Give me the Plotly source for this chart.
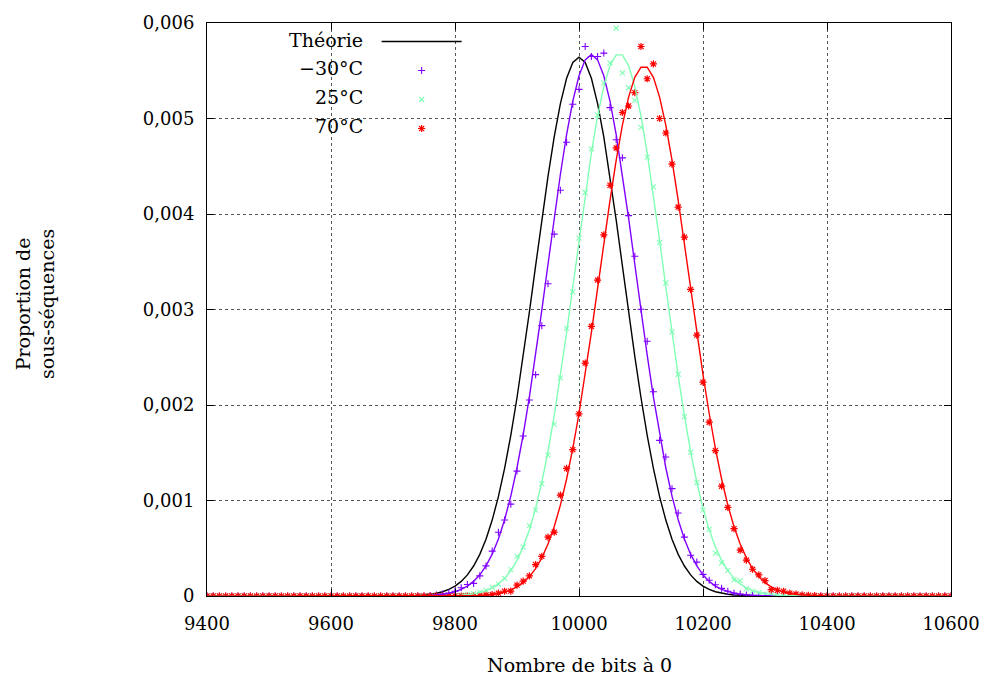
import plotly.graph_objects as go

# ---------------- data ----------------
x_bits = [
    9400, 9410, 9420, 9430, 9440, 9450, 9460, 9470, 9480, 9490,
    9500, 9510, 9520, 9530, 9540, 9550, 9560, 9570, 9580, 9590,
    9600, 9610, 9620, 9630, 9640, 9650, 9660, 9670, 9680, 9690,
    9700, 9710, 9720, 9730, 9740, 9750, 9760, 9770, 9780, 9790,
    9800, 9810, 9820, 9830, 9840, 9850, 9860, 9870, 9880, 9890,
    9900, 9910, 9920, 9930, 9940, 9950, 9960, 9970, 9980, 9990,
    10000, 10010, 10020, 10030, 10040, 10050, 10060, 10070, 10080, 10090,
    10100, 10110, 10120, 10130, 10140, 10150, 10160, 10170, 10180, 10190,
    10200, 10210, 10220, 10230, 10240, 10250, 10260, 10270, 10280, 10290,
    10300, 10310, 10320, 10330, 10340, 10350, 10360, 10370, 10380, 10390,
    10400, 10410, 10420, 10430, 10440, 10450, 10460, 10470, 10480, 10490,
    10500, 10510, 10520, 10530, 10540, 10550, 10560, 10570, 10580, 10590,
    10600,
]

theorie = [
    0, 0, 0, 0, 0, 0, 0, 0, 0, 0,
    0, 0, 0, 0, 0, 0, 0, 0, 0, 0,
    0, 0, 0, 0, 0, 0, 0, 0, 0, 0,
    0, 0, 0.0000022, 0.0000038, 0.0000065, 0.0000109, 0.0000178, 0.0000284, 0.0000446, 0.0000686,
    0.000103, 0.000153, 0.000221, 0.000314, 0.000436, 0.000595, 0.000795, 0.001041, 0.001337, 0.001682,
    0.002076, 0.002510, 0.002975, 0.003456, 0.003936, 0.004394, 0.004808, 0.005156, 0.005421, 0.005586,
    0.005642, 0.005586, 0.005421, 0.005156, 0.004808, 0.004394, 0.003936, 0.003456, 0.002975, 0.002510,
    0.002076, 0.001682, 0.001337, 0.001041, 0.000795, 0.000595, 0.000436, 0.000314, 0.000221, 0.000153,
    0.000103, 0.0000686, 0.0000446, 0.0000284, 0.0000178, 0.0000109, 0.0000065, 0.0000038, 0.0000022, 0,
    0, 0, 0, 0, 0, 0, 0, 0, 0, 0,
    0, 0, 0, 0, 0, 0, 0, 0, 0, 0,
    0, 0, 0, 0, 0, 0, 0, 0, 0, 0,
    0,
]

fit_m30 = [
    0, 0, 0, 0, 0, 0, 0, 0, 0, 0,
    0, 0, 0, 0, 0, 0, 0, 0, 0, 0,
    0, 0, 0, 0, 0, 0, 0, 0, 0, 0,
    0, 0, 0, 0, 0.0000022, 0.0000039, 0.0000066, 0.0000109, 0.0000179, 0.0000286,
    0.0000448, 0.0000689, 0.000104, 0.000153, 0.000222, 0.000315, 0.000438, 0.000598, 0.000799, 0.001046,
    0.001343, 0.001691, 0.002086, 0.002522, 0.002990, 0.003474, 0.003956, 0.004416, 0.004832, 0.005182,
    0.005448, 0.005614, 0.005670, 0.005614, 0.005448, 0.005182, 0.004832, 0.004416, 0.003956, 0.003474,
    0.002990, 0.002522, 0.002086, 0.001691, 0.001343, 0.001046, 0.000799, 0.000598, 0.000438, 0.000315,
    0.000222, 0.000153, 0.000104, 0.0000689, 0.0000448, 0.0000286, 0.0000179, 0.0000109, 0.0000066, 0.0000039,
    0.0000022, 0, 0, 0, 0, 0, 0, 0, 0, 0,
    0, 0, 0, 0, 0, 0, 0, 0, 0, 0,
    0, 0, 0, 0, 0, 0, 0, 0, 0, 0,
    0,
]

fit_25 = [
    0, 0, 0, 0, 0, 0, 0, 0, 0, 0,
    0, 0, 0, 0, 0, 0, 0, 0, 0, 0,
    0, 0, 0, 0, 0, 0, 0, 0, 0, 0,
    0, 0, 0, 0, 0, 0, 0, 0, 0.0000017, 0.0000030,
    0.0000051, 0.0000085, 0.0000140, 0.0000227, 0.0000360, 0.0000558, 0.0000850, 0.000127, 0.000185, 0.000266,
    0.000373, 0.000514, 0.000694, 0.000918, 0.001191, 0.001514, 0.001886, 0.002304, 0.002758, 0.003236,
    0.003723, 0.004197, 0.004639, 0.005025, 0.005336, 0.005554, 0.005666, 0.005666, 0.005554, 0.005336,
    0.005025, 0.004639, 0.004197, 0.003723, 0.003236, 0.002758, 0.002304, 0.001886, 0.001514, 0.001191,
    0.000918, 0.000694, 0.000514, 0.000373, 0.000266, 0.000185, 0.000127, 0.0000850, 0.0000558, 0.0000360,
    0.0000227, 0.0000140, 0.0000085, 0.0000051, 0.0000030, 0.0000017, 0, 0, 0, 0,
    0, 0, 0, 0, 0, 0, 0, 0, 0, 0,
    0, 0, 0, 0, 0, 0, 0, 0, 0, 0,
    0,
]

fit_70 = [
    0, 0, 0, 0, 0, 0, 0, 0, 0, 0,
    0, 0, 0, 0, 0, 0, 0, 0, 0, 0,
    0, 0, 0, 0, 0, 0, 0, 0, 0, 0,
    0, 0, 0, 0, 0, 0, 0, 0, 0, 0,
    0, 0, 0.0000022, 0.0000037, 0.0000062, 0.0000103, 0.0000167, 0.0000266, 0.0000415, 0.0000635,
    0.0000953, 0.000140, 0.000203, 0.000287, 0.000399, 0.000544, 0.000726, 0.000952, 0.001225, 0.001545,
    0.001911, 0.002319, 0.002760, 0.003221, 0.003688, 0.004142, 0.004563, 0.004930, 0.005224, 0.005431,
    0.005537, 0.005537, 0.005431, 0.005224, 0.004930, 0.004563, 0.004142, 0.003688, 0.003221, 0.002760,
    0.002319, 0.001911, 0.001545, 0.001225, 0.000952, 0.000726, 0.000544, 0.000399, 0.000287, 0.000203,
    0.000140, 0.0000953, 0.0000635, 0.0000415, 0.0000266, 0.0000167, 0.0000103, 0.0000062, 0.0000037, 0.0000022,
    0, 0, 0, 0, 0, 0, 0, 0, 0, 0,
    0, 0, 0, 0, 0, 0, 0, 0, 0, 0,
    0,
]

mes_m30 = [
    0, 0, 0, 0, 0, 0, 0, 0, 0, 0,
    0, 0, 0, 0, 0, 0, 0, 0, 0, 0,
    0, 0, 0, 0, 0, 0, 0, 0, 0, 0,
    0, 0, 0, 0, 0, 0, 0.000005, 0.00001, 0.00002, 0.00003,
    0.00005, 0.000086, 0.000121, 0.000132, 0.000211, 0.000315, 0.00047, 0.000668, 0.000796, 0.000962,
    0.001308, 0.001675, 0.002052, 0.002318, 0.002831, 0.00327, 0.003789, 0.004249, 0.004751, 0.005149,
    0.005305, 0.005754, 0.00565, 0.00565, 0.005685, 0.005114, 0.004778, 0.004588, 0.003983, 0.003557,
    0.003003, 0.002668, 0.002138, 0.00163, 0.001456, 0.001124, 0.000869, 0.000616, 0.000426, 0.000355,
    0.000226, 0.000165, 0.000118, 0.00008, 0.00005, 0.00003, 0.00002, 0.00001, 0.000005, 0,
    0, 0, 0, 0, 0, 0, 0, 0, 0, 0,
    0, 0, 0, 0, 0, 0, 0, 0, 0, 0,
    0, 0, 0, 0, 0, 0, 0, 0, 0, 0,
    0,
]

mes_25 = [
    0, 0, 0, 0, 0, 0, 0, 0, 0, 0,
    0, 0, 0, 0, 0, 0, 0, 0, 0, 0,
    0, 0, 0, 0, 0, 0, 0, 0, 0, 0,
    0, 0, 0, 0, 0, 0, 0, 0, 0, 0,
    0.000005, 0.00001, 0.000015, 0.000025, 0.00004, 0.00006, 0.00009, 0.000125, 0.000184, 0.000277,
    0.000415, 0.000512, 0.000737, 0.0009, 0.001176, 0.001474, 0.001799, 0.002284, 0.002803, 0.003184,
    0.003747, 0.004225, 0.004682, 0.005035, 0.005374, 0.005582, 0.005945, 0.005478, 0.005322, 0.00519,
    0.004907, 0.004595, 0.004284, 0.0037, 0.003279, 0.002765, 0.002322, 0.001879, 0.001505, 0.001187,
    0.0009, 0.000698, 0.00045, 0.000346, 0.000268, 0.000168, 0.00016, 0.000074, 0.00005, 0.000035,
    0.00002, 0.000012, 0.000008, 0.000005, 0, 0, 0, 0, 0, 0,
    0, 0, 0, 0, 0, 0, 0, 0, 0, 0,
    0, 0, 0, 0, 0, 0, 0, 0, 0, 0,
    0,
]

mes_70 = [
    0, 0, 0, 0, 0, 0, 0, 0, 0, 0,
    0, 0, 0, 0, 0, 0, 0, 0, 0, 0,
    0, 0, 0, 0, 0, 0, 0, 0, 0, 0,
    0, 0, 0, 0, 0, 0, 0, 0, 0, 0,
    0, 0, 0, 0, 0.000005, 0.00001, 0.000015, 0.00003, 0.00005, 0.000052,
    0.000114, 0.000156, 0.000211, 0.000329, 0.000415, 0.000616, 0.000668, 0.001056, 0.001336, 0.001533,
    0.001907, 0.002439, 0.002824, 0.003308, 0.003782, 0.004301, 0.004692, 0.005063, 0.005131, 0.00527,
    0.005754, 0.005416, 0.005571, 0.0050, 0.004848, 0.004523, 0.004073, 0.003757, 0.003211, 0.002732,
    0.002239, 0.00182, 0.001523, 0.00115, 0.000927, 0.000705, 0.00048, 0.000376, 0.00028, 0.000221,
    0.000162, 0.000066, 0.00006, 0.00005, 0.00003, 0.00002, 0.000012, 0.000008, 0.000005, 0,
    0, 0, 0, 0, 0, 0, 0, 0, 0, 0,
    0, 0, 0, 0, 0, 0, 0, 0, 0, 0,
    0,
]

series_labels = ["Théorie", "\u221230\u00b0C", "25\u00b0C", "70\u00b0C"]
x_ticks = [9400, 9600, 9800, 10000, 10200, 10400, 10600]
y_ticks = [0, 0.001, 0.002, 0.003, 0.004, 0.005, 0.006]
y_ticktext = ["0", "0,001", "0,002", "0,003", "0,004", "0,005", "0,006"]

# ---------------- style ----------------
FONT = "DejaVu Serif"
C_BLACK = "#000000"
C_PURPLE = "#8000ff"
C_GREEN = "#80ffb4"
C_RED = "#ff0000"

W, H = 992, 684
ML, MR, MT, MB = 207, 35, 16, 88
PW, PH = W - ML - MR, H - MT - MB


def px_x(px):
    return (px - ML) / PW


def px_y(py):
    return 1 - (py - MT) / PH


fig = go.Figure()

fig.add_trace(go.Scatter(x=x_bits, y=theorie, mode="lines", name="",
                         line=dict(color=C_BLACK, width=1.4), showlegend=True,
                         legendrank=1))
fig.add_trace(go.Scatter(x=x_bits, y=mes_m30, mode="markers", name="",
                         marker=dict(symbol="cross-thin", size=5, color=C_PURPLE,
                                     line=dict(color=C_PURPLE, width=1.1)),
                         showlegend=True, legendrank=2))
fig.add_trace(go.Scatter(x=x_bits, y=mes_25, mode="markers", name="",
                         marker=dict(symbol="x-thin", size=5, color=C_GREEN,
                                     line=dict(color=C_GREEN, width=1.1)),
                         showlegend=True, legendrank=3))
fig.add_trace(go.Scatter(x=x_bits, y=mes_70, mode="markers", name="",
                         marker=dict(symbol="asterisk-open", size=6, color=C_RED,
                                     line=dict(color=C_RED, width=1.2)),
                         showlegend=True, legendrank=4))
fig.add_trace(go.Scatter(x=x_bits, y=fit_m30, mode="lines", showlegend=False,
                         line=dict(color=C_PURPLE, width=1.4)))
fig.add_trace(go.Scatter(x=x_bits, y=fit_25, mode="lines", showlegend=False,
                         line=dict(color=C_GREEN, width=1.4)))
fig.add_trace(go.Scatter(x=x_bits, y=fit_70, mode="lines", showlegend=False,
                         line=dict(color=C_RED, width=1.4)))

axis_common = dict(
    showline=True, linecolor="black", linewidth=1, mirror="ticks",
    ticks="inside", ticklen=7, tickcolor="black", tickwidth=1,
    showgrid=True, gridcolor="#555555", griddash="dot", gridwidth=1,
    zeroline=False,
    tickfont=dict(family=FONT, size=18, color="black"),
)

fig.update_xaxes(range=[9400, 10600], tickvals=x_ticks,
                 ticktext=[str(v) for v in x_ticks], ticklabelstandoff=11,
                 **axis_common)
fig.update_yaxes(range=[0, 0.006], tickvals=y_ticks, ticktext=y_ticktext,
                 ticklabelstandoff=8, **axis_common)

# white background behind the key (above grid, below data)
fig.add_shape(type="rect", xref="paper", yref="paper",
              x0=px_x(222), x1=px_x(478), y0=px_y(141), y1=px_y(17),
              fillcolor="white", line=dict(width=0), layer="between")

annotations = []
label_y = [33, 62, 91, 120]
for lab, py in zip(series_labels, label_y):
    annotations.append(dict(text=lab, xref="paper", yref="paper",
                            x=px_x(366), y=px_y(py), xanchor="right",
                            yanchor="middle", showarrow=False,
                            font=dict(family=FONT, size=19, color="black")))
annotations.append(dict(text="Proportion de<br>sous-séquences", xref="paper",
                        yref="paper", x=px_x(34), y=px_y(300),
                        xanchor="center", yanchor="middle", textangle=-90,
                        showarrow=False,
                        font=dict(family=FONT, size=19, color="black")))
annotations.append(dict(text="Nombre de bits à 0", xref="paper", yref="paper",
                        x=px_x(582), y=px_y(666), xanchor="center",
                        yanchor="middle", showarrow=False,
                        font=dict(family=FONT, size=19, color="black")))

fig.update_layout(
    width=W, height=H,
    margin=dict(l=ML, r=MR, t=MT, b=MB),
    paper_bgcolor="white", plot_bgcolor="white",
    font=dict(family=FONT, size=18, color="black"),
    annotations=annotations,
    legend=dict(x=px_x(378), y=px_y(15), xanchor="left", yanchor="top",
                bgcolor="rgba(255,255,255,0)", borderwidth=0,
                font=dict(family=FONT, size=20), itemwidth=80,
                tracegroupgap=0),
)

fig.write_html(
    "out.html",
    config={"displayModeBar": False},
    post_script="document.body.style.margin='0';document.body.style.padding='0';"
                "document.documentElement.style.overflow='hidden';",
)
